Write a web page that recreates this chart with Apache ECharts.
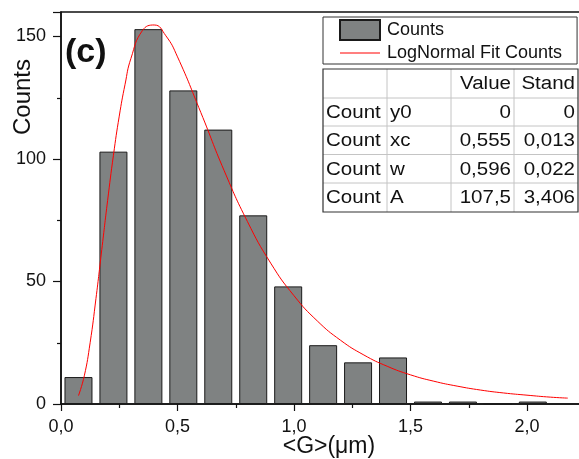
<!DOCTYPE html>
<html>
<head>
<meta charset="utf-8">
<script src="https://cdn.jsdelivr.net/npm/echarts@6/dist/echarts.min.js"></script>
<style>
  html, body { margin: 0; padding: 0; background: #fff; }
  #main { width: 579px; height: 459px; }
</style>
</head>
<body>
<div id="main"></div>
<script>
// histogram bins (centre of each bin, width 0,15)
let bin_centers = [0.075, 0.225, 0.375, 0.525, 0.675, 0.825, 0.975, 1.125, 1.275, 1.425, 1.575, 1.725, 1.875, 2.025];
let counts = [11, 103, 153, 128, 112, 77, 48, 24, 17, 19, 1, 1, 0, 1];

// log normal fit curve
let fit_x = [0.075, 0.1, 0.125, 0.15, 0.175, 0.2, 0.225, 0.25, 0.275, 0.3, 0.35, 0.4, 0.45, 0.5, 0.6, 0.7, 0.8, 0.9, 1.0,
    1.1, 1.2, 1.3, 1.4, 1.5, 1.6, 1.7, 1.8, 1.9, 2.0, 2.1, 2.175];
let fit_y = [3.4, 11.5, 25, 43, 63, 83, 101.5, 117.5, 130.5, 141, 152.5, 154.7, 150.3, 141.7, 119, 95.3, 74.5, 57.5, 44.2,
    33.9, 26, 20, 15.4, 11.9, 9.3, 7.3, 5.7, 4.5, 3.6, 2.8, 2.4];

// fit parameter table
let table_head = ['', '', 'Value', 'Stand'];
let table_rows = [
    ['Count', 'y0', '0', '0'],
    ['Count', 'xc', '0,555', '0,013'],
    ['Count', 'w', '0,596', '0,022'],
    ['Count', 'A', '107,5', '3,406']
];

function comma(v) {
    return v.toFixed(1).replace('.', ',');
}

var chartDom = document.getElementById('main');
var myChart = echarts.init(chartDom);

// build the table out of rects and texts
let col_x = [323, 387, 451, 514, 578];
let row_y = [69, 98, 126, 154.5, 183, 212];
let table_elements = [];
for (let i = 1; i < col_x.length - 1; i++) {
    table_elements.push({
        type: 'line',
        shape: { x1: col_x[i], y1: row_y[0], x2: col_x[i], y2: row_y[row_y.length - 1] },
        style: { stroke: '#c4c4c4', lineWidth: 1 }
    });
}
for (let j = 1; j < row_y.length - 1; j++) {
    table_elements.push({
        type: 'line',
        shape: { x1: col_x[0], y1: row_y[j], x2: col_x[col_x.length - 1], y2: row_y[j] },
        style: { stroke: '#c4c4c4', lineWidth: 1 }
    });
}
table_elements.push({
    type: 'rect',
    shape: { x: col_x[0], y: row_y[0], width: col_x[4] - col_x[0], height: row_y[5] - row_y[0] },
    style: { fill: 'none', stroke: '#333', lineWidth: 1.2 }
});
let all_rows = [table_head].concat(table_rows);
for (let j = 0; j < all_rows.length; j++) {
    let cy = (row_y[j] + row_y[j + 1]) / 2 + 1;
    for (let i = 0; i < 4; i++) {
        let txt = all_rows[j][i];
        if (!txt) continue;
        let right = i >= 2;
        table_elements.push({
            type: 'text',
            x: right ? col_x[i + 1] - 3 : col_x[i] + 3,
            y: cy,
            scaleX: 1.14,
            style: {
                text: txt,
                fontFamily: 'Liberation Sans',
                fontSize: 18,
                fill: '#111',
                textAlign: right ? 'right' : 'left',
                textVerticalAlign: 'middle'
            }
        });
    }
}

var option = {
    animation: false,
    backgroundColor: '#fff',
    textStyle: { fontFamily: 'Liberation Sans' },
    grid: {
        left: 61,
        top: 12,
        width: 2.3 * 233,
        height: 392,
        outerBoundsMode: 'none',
        containLabel: false,
        show: true,
        borderColor: '#111',
        borderWidth: 1.5,
        backgroundColor: 'transparent'
    },
    legend: {
        orient: 'vertical',
        left: 323,
        top: 17,
        padding: [2, 15, 2, 16],
        itemGap: 3,
        itemWidth: 40,
        itemHeight: 20,
        borderColor: '#333',
        borderWidth: 1,
        backgroundColor: '#fff',
        textStyle: { fontSize: 18, color: '#111', padding: [0, 0, 0, 2], fontFamily: 'Liberation Sans' },
        data: [
            { name: 'Counts', icon: 'rect' },
            { name: 'LogNormal Fit Counts', icon: 'path://M0,0 L40,0 L40,1 L0,1 Z' }
        ]
    },
    xAxis: {
        type: 'value',
        min: 0,
        max: 2.3,
        interval: 0.5,
        name: '<G>(\u03bcm)',
        nameLocation: 'middle',
        nameGap: 31,
        nameMoveOverlap: false,
        nameTextStyle: { fontSize: 23, color: '#111' },
        axisLine: { onZero: false, lineStyle: { color: '#111', width: 1.5 } },
        axisTick: { inside: false, length: 7, lineStyle: { color: '#111', width: 1.2 } },
        minorTick: { show: true, splitNumber: 2, length: 4, lineStyle: { color: '#111', width: 1.2 } },
        splitLine: { show: false },
        axisLabel: {
            fontSize: 18, color: '#111', margin: 14,
            showMaxLabel: false,
            formatter: function (v) { return comma(v); }
        }
    },
    yAxis: {
        type: 'value',
        min: 0,
        max: 160,
        interval: 50,
        axisLine: { lineStyle: { color: '#111', width: 1.5 } },
        axisTick: { inside: false, length: 8, lineStyle: { color: '#111', width: 1.2 } },
        minorTick: { show: true, splitNumber: 2, length: 4, lineStyle: { color: '#111', width: 1.2 } },
        splitLine: { show: false },
        axisLabel: { fontSize: 18, color: '#111', margin: 15, showMaxLabel: false }
    },
    graphic: [
        {
            type: 'text',
            x: 23,
            y: 97,
            rotation: Math.PI / 2,
            style: {
                text: 'Counts',
                fontFamily: 'Liberation Sans',
                fontSize: 24,
                fill: '#111',
                textAlign: 'center',
                textVerticalAlign: 'middle'
            }
        },
        {
            type: 'text',
            left: 65,
            top: 36,
            style: {
                text: '(c)',
                fontFamily: 'Liberation Sans',
                fontWeight: 'bold',
                fontSize: 34,
                fill: '#111'
            }
        },
        { type: 'group', children: table_elements }
    ],
    series: [
        {
            name: 'Counts',
            type: 'bar',
            barWidth: 28,
            data: bin_centers.map((x, i) => [x, counts[i]]),
            itemStyle: { color: '#7f8282', borderColor: '#1a1a1a', borderWidth: 1 }
        },
        {
            name: 'LogNormal Fit Counts',
            type: 'line',
            smooth: true,
            symbol: 'none',
            data: fit_x.map((x, i) => [x, fit_y[i]]),
            lineStyle: { color: '#ff0000', width: 1 },
            itemStyle: { color: '#ff0000' },
            z: 5
        }
    ]
};

myChart.setOption(option);
</script>
</body>
</html>
